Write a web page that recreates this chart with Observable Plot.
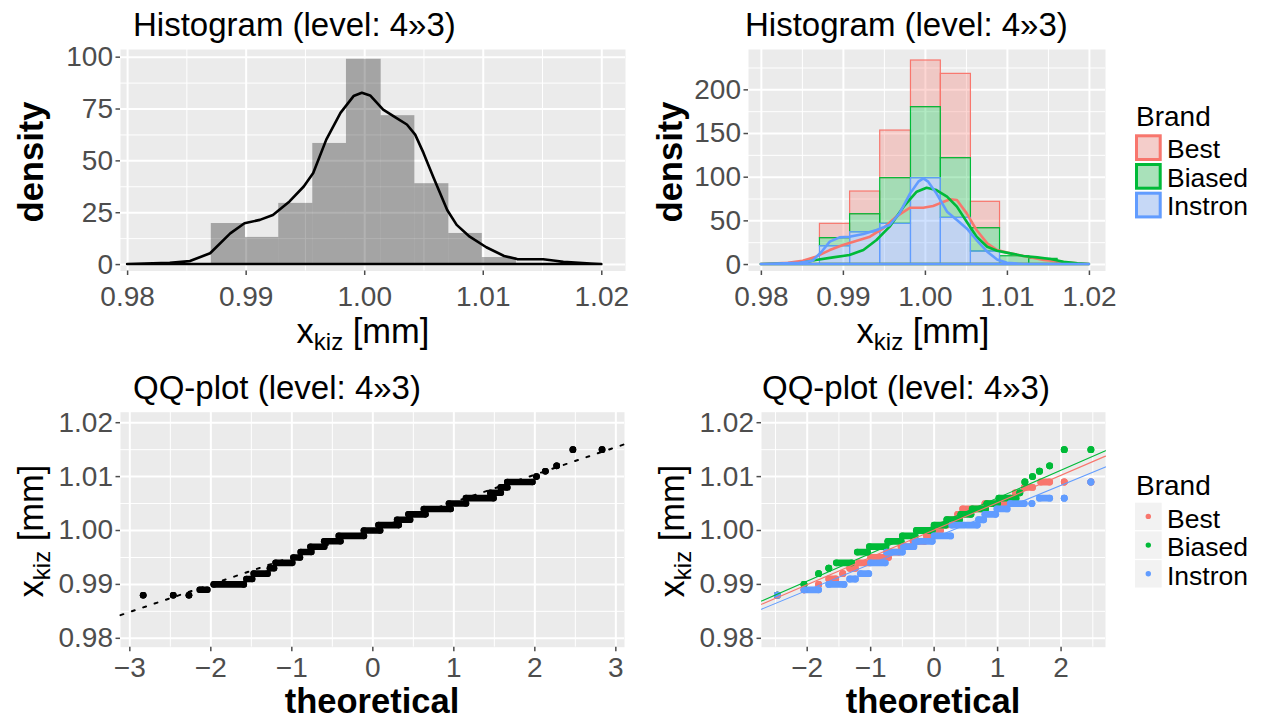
<!DOCTYPE html>
<html><head><meta charset="utf-8">
<script src="https://cdn.jsdelivr.net/npm/d3@7"></script>
<script src="https://cdn.jsdelivr.net/npm/@observablehq/plot@0.6"></script>
<style>
body{margin:0;background:#fff;}
#root{position:relative;width:1267px;height:722px;overflow:hidden;}
</style></head><body><div id="root"></div>
<script>
// ---------------- data ----------------
const brands = ["Best", "Biased", "Instron"];
const brandColors = ["#F8766D", "#00BA38", "#619CFF"];

// top-left histogram (all brands), density scale
const histEdges = [0.98706, 0.98994, 0.99275, 0.99562, 0.99846, 1.00139, 1.00423, 1.00710, 1.00992, 1.01280];
const histDensity = [19.8, 13.1, 29.5, 58.4, 99.0, 71.8, 39.0, 15.0, 3.4];
const densX = [0.9800, 0.9836, 0.9853, 0.9870, 0.9887, 0.9899, 0.9912, 0.9923, 0.9937, 0.9949, 0.9957, 0.9968, 0.9980, 0.9991, 0.9998, 1.0005, 1.0016, 1.0027, 1.0036, 1.0043, 1.0050, 1.0058, 1.0070, 1.0078, 1.0089, 1.0103, 1.0118, 1.0129, 1.0151, 1.0168, 1.0191, 1.0200];
const densY = [0, 0.6, 1.5, 5.2, 14.8, 19.7, 21.3, 23.7, 30.2, 37.4, 43.9, 60.0, 72.9, 81.0, 82.6, 81.3, 74.5, 70.5, 67.3, 62.4, 53.6, 42.3, 26.1, 18.9, 13.2, 8.1, 3.9, 2.4, 2.3, 1.1, 0.3, 0];

// top-right stacked histogram by brand
const brandEdges = [0.98714, 0.99082, 0.99449, 0.99824, 1.00188, 1.00555, 1.00910, 1.01265, 1.01612];
const bestDensity = [16.4, 26.0, 54.5, 53.4, 96.5, 30.2, 0, 0];
const biasedDensity = [9.2, 20.6, 52.3, 81.3, 68.4, 26.7, 9.5, 6.5];
const instronDensity = [21.0, 37.0, 46.6, 98.9, 53.4, 14.9, 0, 0];

const bestDensX = [0.9800, 0.9833, 0.9851, 0.9867, 0.9884, 0.9900, 0.9916, 0.9933, 0.9949, 0.9965, 0.9982, 0.9998, 1.0010, 1.0018, 1.0031, 1.0039, 1.0051, 1.0063, 1.0076, 1.0088, 1.0104, 1.0125, 1.0145, 1.0165, 1.0186, 1.0200];
const bestDensY = [0, 1.5, 3.8, 8.4, 16.0, 21.8, 26.3, 31.3, 40.8, 54.2, 64.5, 64.5, 66.4, 69.5, 74.1, 73.3, 58.0, 38.9, 23.7, 16.0, 12.2, 8.4, 4.6, 2.7, 0.8, 0];
const biasedDensX = [0.9800, 0.9847, 0.9867, 0.9888, 0.9908, 0.9925, 0.9941, 0.9957, 0.9974, 0.9990, 1.0002, 1.0014, 1.0027, 1.0039, 1.0051, 1.0063, 1.0076, 1.0088, 1.0104, 1.0120, 1.0137, 1.0153, 1.0169, 1.0186, 1.0200];
const biasedDensY = [0, 0.8, 4.6, 7.6, 10.3, 16.0, 27.5, 42.8, 65.7, 82.8, 87.4, 84.7, 77.1, 65.7, 48.5, 31.3, 19.8, 15.3, 12.2, 9.2, 7.6, 5.7, 2.7, 0.8, 0];
const instronDensX = [0.9800, 0.9847, 0.9863, 0.9874, 0.9884, 0.9896, 0.9908, 0.9925, 0.9941, 0.9957, 0.9969, 0.9982, 0.9992, 0.9998, 1.0004, 1.0014, 1.0027, 1.0039, 1.0051, 1.0063, 1.0076, 1.0088, 1.0100, 1.0120, 1.0200];
const instronDensY = [0, 1.5, 3.8, 14.1, 25.6, 30.5, 31.3, 34.4, 38.9, 44.7, 58.0, 80.9, 94.3, 98.1, 94.3, 80.9, 59.9, 50.4, 40.8, 27.5, 14.1, 5.3, 1.5, 0, 0];

// bottom-left QQ plot: [sample value, first theoretical quantile, last theoretical quantile] of each run of equal values
const qqRuns = [
  [0.988, -2.835, -2.835], [0.988, -2.464, -2.464], [0.988, -2.27, -2.27],
  [0.989, -2.136, -2.044], [0.990, -1.963, -1.593], [0.991, -1.56, -1.49],
  [0.992, -1.47, -1.30], [0.993, -1.27, -1.22], [0.994, -1.20, -0.995],
  [0.995, -0.98, -0.90], [0.996, -0.89, -0.76], [0.997, -0.77, -0.60],
  [0.998, -0.60, -0.40], [0.999, -0.42, -0.11], [1.000, -0.11, 0.09],
  [1.001, 0.07, 0.32], [1.002, 0.30, 0.46], [1.003, 0.44, 0.65],
  [1.004, 0.63, 0.96], [1.005, 0.94, 1.15], [1.006, 1.15, 1.49],
  [1.007, 1.45, 1.58], [1.008, 1.58, 1.66], [1.009, 1.66, 1.97],
  [1.010, 2.02, 2.02], [1.011, 2.13, 2.13], [1.012, 2.27, 2.27],
  [1.015, 2.47, 2.47], [1.015, 2.83, 2.83]
];
const qqLineT = [-3.115, 3.107];
const qqLineY = [0.9843, 1.0160];

// bottom-right QQ plot by brand
const bestRuns = [
  [0.988, -2.47, -2.47], [0.989, -2.05, -2.05], [0.990, -1.82, -1.82], [0.991, -1.66, -1.55],
  [0.992, -1.44, -1.44], [0.993, -1.33, -1.24], [0.994, -1.19, -1.02], [0.995, -1.0, -0.72],
  [0.996, -0.70, -0.55], [0.997, -0.52, -0.36], [0.998, -0.33, -0.15], [0.999, -0.12, 0.0],
  [1.000, 0.02, 0.10], [1.001, 0.12, 0.20], [1.002, 0.22, 0.36], [1.003, 0.37, 0.45],
  [1.004, 0.45, 0.75], [1.005, 0.80, 1.15], [1.006, 1.20, 1.20], [1.007, 1.28, 1.28],
  [1.008, 1.42, 1.55], [1.009, 1.68, 1.82], [1.009, 2.05, 2.05], [1.009, 2.47, 2.47]
];
const biasedRuns = [
  [0.988, -2.47, -2.47], [0.990, -2.05, -2.05], [0.992, -1.82, -1.82], [0.993, -1.66, -1.66],
  [0.994, -1.54, -1.30], [0.996, -1.21, -1.05], [0.997, -1.02, -0.76], [0.998, -0.73, -0.52],
  [0.999, -0.50, -0.30], [1.000, -0.28, -0.03], [1.001, 0.0, 0.18], [1.002, 0.20, 0.40],
  [1.003, 0.42, 0.58], [1.004, 0.60, 0.81], [1.005, 0.83, 1.0], [1.006, 1.02, 1.29],
  [1.007, 1.35, 1.35], [1.009, 1.43, 1.43], [1.010, 1.55, 1.55], [1.011, 1.66, 1.66],
  [1.012, 1.82, 1.82], [1.015, 2.05, 2.05], [1.015, 2.47, 2.47]
];
const instronRuns = [
  [0.988, -2.47, -2.47], [0.989, -2.05, -1.82], [0.990, -1.66, -1.42], [0.991, -1.33, -1.24],
  [0.992, -1.16, -1.03], [0.994, -1.0, -0.77], [0.996, -0.75, -0.50], [0.997, -0.48, -0.32],
  [0.998, -0.30, -0.03], [0.999, 0.0, 0.26], [1.001, 0.28, 0.68], [1.002, 0.70, 0.78],
  [1.003, 0.80, 0.97], [1.004, 0.99, 1.15], [1.005, 1.20, 1.42], [1.005, 1.54, 1.54],
  [1.006, 1.66, 1.82], [1.006, 2.05, 2.05], [1.009, 2.47, 2.47]
];
const brLineT = [-2.72, 2.70];
const bestLineY = [0.9863, 1.0138];
const biasedLineY = [0.9869, 1.0148];
const instronLineY = [0.9854, 1.0118];

// ticks
const histXTicks = [0.98, 0.99, 1.00, 1.01, 1.02];
const histXMinor = [0.985, 0.995, 1.005, 1.015];
const histYTicks = [0, 25, 50, 75, 100];
const histYMinor = [12.5, 37.5, 62.5, 87.5];
const brandYTicks = [0, 50, 100, 150, 200];
const brandYMinor = [25, 75, 125, 175, 225];
const qqXTicks = [-3, -2, -1, 0, 1, 2, 3];
const qqXMinor = [-2.5, -1.5, -0.5, 0.5, 1.5, 2.5];
const qqBrXTicks = [-2, -1, 0, 1, 2];
const qqYTicks = [0.98, 0.99, 1.00, 1.01, 1.02];
const qqYMinor = [0.985, 0.995, 1.005, 1.015];

// ---------------- drawing ----------------
const FONT = '"Liberation Sans", Arial, sans-serif';
const root = document.getElementById("root");
function put(node, left, top) {
  node.style.position = "absolute";
  node.style.left = left + "px";
  node.style.top = top + "px";
  root.appendChild(node);
}
const baseStyle = {fontFamily: FONT, fontSize: "28px", color: "#4D4D4D", background: "transparent", overflow: "visible"};
const f2 = d3.format(".2f");

function panelBg(xMajor, xMinor, yMajor, yMinor) {
  return [
    Plot.frame({fill: "#EBEBEB", stroke: "none"}),
    Plot.gridX(xMinor, {stroke: "white", strokeOpacity: 1, strokeWidth: 1}),
    Plot.gridY(yMinor, {stroke: "white", strokeOpacity: 1, strokeWidth: 1}),
    Plot.gridX(xMajor, {stroke: "white", strokeOpacity: 1, strokeWidth: 2}),
    Plot.gridY(yMajor, {stroke: "white", strokeOpacity: 1, strokeWidth: 2})
  ];
}
function axes(xt, yt, xfmt, yfmt, xpad) {
  return [
    Plot.axisX(xt, {tickSize: 4.5, tickPadding: xpad, tickFormat: xfmt, label: null, strokeWidth: 1.5, color: "#4D4D4D"}),
    Plot.axisY(yt, {tickSize: 4.5, tickPadding: 3, tickFormat: yfmt, label: null, strokeWidth: 1.5, color: "#4D4D4D"})
  ];
}

// top-left
const tl = Plot.plot({
  width: 640, height: 360, marginLeft: 120, marginRight: 15, marginTop: 49, marginBottom: 89.5,
  x: {domain: [0.9794, 1.0220]}, y: {domain: [-3.1, 103.7]},
  style: baseStyle,
  marks: [
    ...panelBg(histXTicks, histXMinor, histYTicks, histYMinor),
    Plot.rect(histDensity, {x1: (d, i) => histEdges[i], x2: (d, i) => histEdges[i + 1], y1: 0, y2: d => d, fill: "black", fillOpacity: 0.3}),
    Plot.areaY(densX, {x: d => d, y: (d, i) => densY[i], fill: "none", stroke: "black", strokeWidth: 2.6}),
    ...axes(histXTicks, histYTicks, f2, d3.format("d"), 11)
  ]
});
put(tl, 0, 0);

// top-right
const trRows = [];
for (let i = 0; i < brandEdges.length - 1; i++) {
  let base = 0;
  const parts = [["Instron", instronDensity[i]], ["Biased", biasedDensity[i]], ["Best", bestDensity[i]]];
  for (const [b, v] of parts) {
    if (v > 0) trRows.push({brand: b, x1: brandEdges[i], x2: brandEdges[i + 1], y1: base, y2: base + v});
    base += v;
  }
}
trRows.sort((a, b) => brands.indexOf(a.brand) - brands.indexOf(b.brand));
const densSets = [[bestDensX, bestDensY], [biasedDensX, biasedDensY], [instronDensX, instronDensY]];
const tr = Plot.plot({
  width: 480, height: 360, marginLeft: 108, marginRight: 15, marginTop: 49, marginBottom: 89.5,
  x: {domain: [0.97843, 1.02196]}, y: {domain: [-7.4, 246.2]},
  color: {domain: brands, range: brandColors},
  style: baseStyle,
  marks: [
    ...panelBg(histXTicks, histXMinor, brandYTicks, brandYMinor),
    Plot.rect(trRows, {x1: "x1", x2: "x2", y1: "y1", y2: "y2", fill: "brand", fillOpacity: 0.3, stroke: "brand", strokeWidth: 1.2}),
    ...densSets.map(([xs, ys], k) => Plot.areaY(xs, {x: d => d, y: (d, i) => ys[i], fill: "none", stroke: brandColors[k], strokeWidth: 2.6})),
    ...axes(histXTicks, brandYTicks, f2, d3.format("d"), 11)
  ]
});
put(tr, 640, 0);

// bottom-left
function runMarks(runs, color, r) {
  return [
    Plot.link(runs, {x1: d => d[1], x2: d => d[2], y1: d => d[0], y2: d => d[0], stroke: color, strokeWidth: 2 * r, strokeLinecap: "round"}),
    Plot.dot(runs, {x: d => d[1], y: d => d[0], r, fill: color}),
    Plot.dot(runs, {x: d => d[2], y: d => d[0], r, fill: color})
  ];
}
const bl = Plot.plot({
  width: 640, height: 362, marginLeft: 120, marginRight: 16, marginTop: 51.7, marginBottom: 75.3,
  x: {domain: [-3.115, 3.107]}, y: {domain: [0.97835, 1.02195]},
  style: baseStyle,
  marks: [
    ...panelBg(qqXTicks, qqXMinor, qqYTicks, qqYMinor),
    Plot.line(qqLineT, {x: d => d, y: (d, i) => qqLineY[i], stroke: "black", strokeWidth: 2, strokeDasharray: "3,9"}),
    ...runMarks(qqRuns, "black", 3.3),
    ...axes(qqXTicks, qqYTicks, d3.format("d"), f2, 5)
  ]
});
put(bl, 0, 360);

// bottom-right
const brRunSets = [bestRuns, biasedRuns, instronRuns];
const brLineSets = [bestLineY, biasedLineY, instronLineY];
const br = Plot.plot({
  width: 480, height: 362, marginLeft: 121, marginRight: 15, marginTop: 51.7, marginBottom: 75.3,
  x: {domain: [-2.72, 2.70]}, y: {domain: [0.97835, 1.02195]},
  style: baseStyle,
  marks: [
    ...panelBg(qqBrXTicks, qqXMinor, qqYTicks, qqYMinor),
    ...brRunSets.flatMap((runs, k) => runMarks(runs, brandColors[k], 3.4)),
    ...brLineSets.map((ys, k) => Plot.line(brLineT, {x: d => d, y: (d, i) => ys[i], stroke: brandColors[k], strokeWidth: 1.1})),
    ...axes(qqBrXTicks, qqYTicks, d3.format("d"), f2, 5)
  ]
});
put(br, 640, 360);

// ---------------- text overlay & legends ----------------
const AX = 34.5;
const ov = d3.create("svg").attr("width", 1267).attr("height", 722)
  .attr("font-family", FONT).style("overflow", "visible");
function txt(x, y, s, opts = {}) {
  const t = ov.append("text").attr("x", x).attr("y", y).attr("font-size", opts.size || 33)
    .attr("fill", opts.fill || "black").attr("text-anchor", opts.anchor || "start")
    .attr("font-weight", opts.weight || "normal");
  if (opts.rotate) t.attr("x", 0).attr("y", 0).attr("transform", `translate(${x},${y}) rotate(-90)`);
  t.text(s);
  return t;
}
function xkiz(x, y, rotate) {
  const t = ov.append("text").attr("font-size", AX).attr("text-anchor", "middle").attr("fill", "black");
  if (rotate) t.attr("transform", `translate(${x},${y}) rotate(-90)`); else t.attr("x", x).attr("y", y);
  t.append("tspan").text("x");
  t.append("tspan").attr("font-size", 24).attr("dy", 7).text("kiz");
  t.append("tspan").attr("dy", -7).text(" [mm]");
}
txt(133, 36, "Histogram (level: 4»3)");
txt(745, 36, "Histogram (level: 4»3)");
txt(133, 399, "QQ-plot (level: 4»3)");
txt(762, 399, "QQ-plot (level: 4»3)");
xkiz(363, 343, false);
xkiz(923, 343, false);
txt(372, 713, "theoretical", {anchor: "middle", weight: "bold", size: AX});
txt(933, 713, "theoretical", {anchor: "middle", weight: "bold", size: AX});
txt(43, 162, "density", {anchor: "middle", weight: "bold", rotate: true, size: AX});
txt(682, 162, "density", {anchor: "middle", weight: "bold", rotate: true, size: AX});
xkiz(43, 531, true);
xkiz(684, 531, true);

// legend: histogram (fill keys)
const LG = 26.5;
txt(1136, 125.5, "Brand", {size: 28});
brands.forEach((b, i) => {
  const y0 = 134.3 + i * 28.7;
  ov.append("rect").attr("x", 1135).attr("y", y0).attr("width", 26.7).attr("height", 26.7).attr("fill", "#F2F2F2");
  ov.append("rect").attr("x", 1136.5).attr("y", y0 + 1.5).attr("width", 23.7).attr("height", 23.7)
    .attr("fill", brandColors[i]).attr("fill-opacity", 0.3).attr("stroke", brandColors[i]).attr("stroke-width", 3);
  txt(1167, y0 + 23.5, b, {size: LG});
});
// legend: QQ (point keys)
txt(1136, 495, "Brand", {size: 28});
brands.forEach((b, i) => {
  const y0 = 502.7 + i * 28.7;
  ov.append("rect").attr("x", 1135).attr("y", y0).attr("width", 26.7).attr("height", 27.4).attr("fill", "#F2F2F2");
  ov.append("circle").attr("cx", 1148.3).attr("cy", y0 + 13.7).attr("r", 2.7).attr("fill", brandColors[i]);
  txt(1167, y0 + 25, b, {size: LG});
});
const ovn = ov.node();
ovn.style.pointerEvents = "none";
put(ovn, 0, 0);
</script></body></html>
